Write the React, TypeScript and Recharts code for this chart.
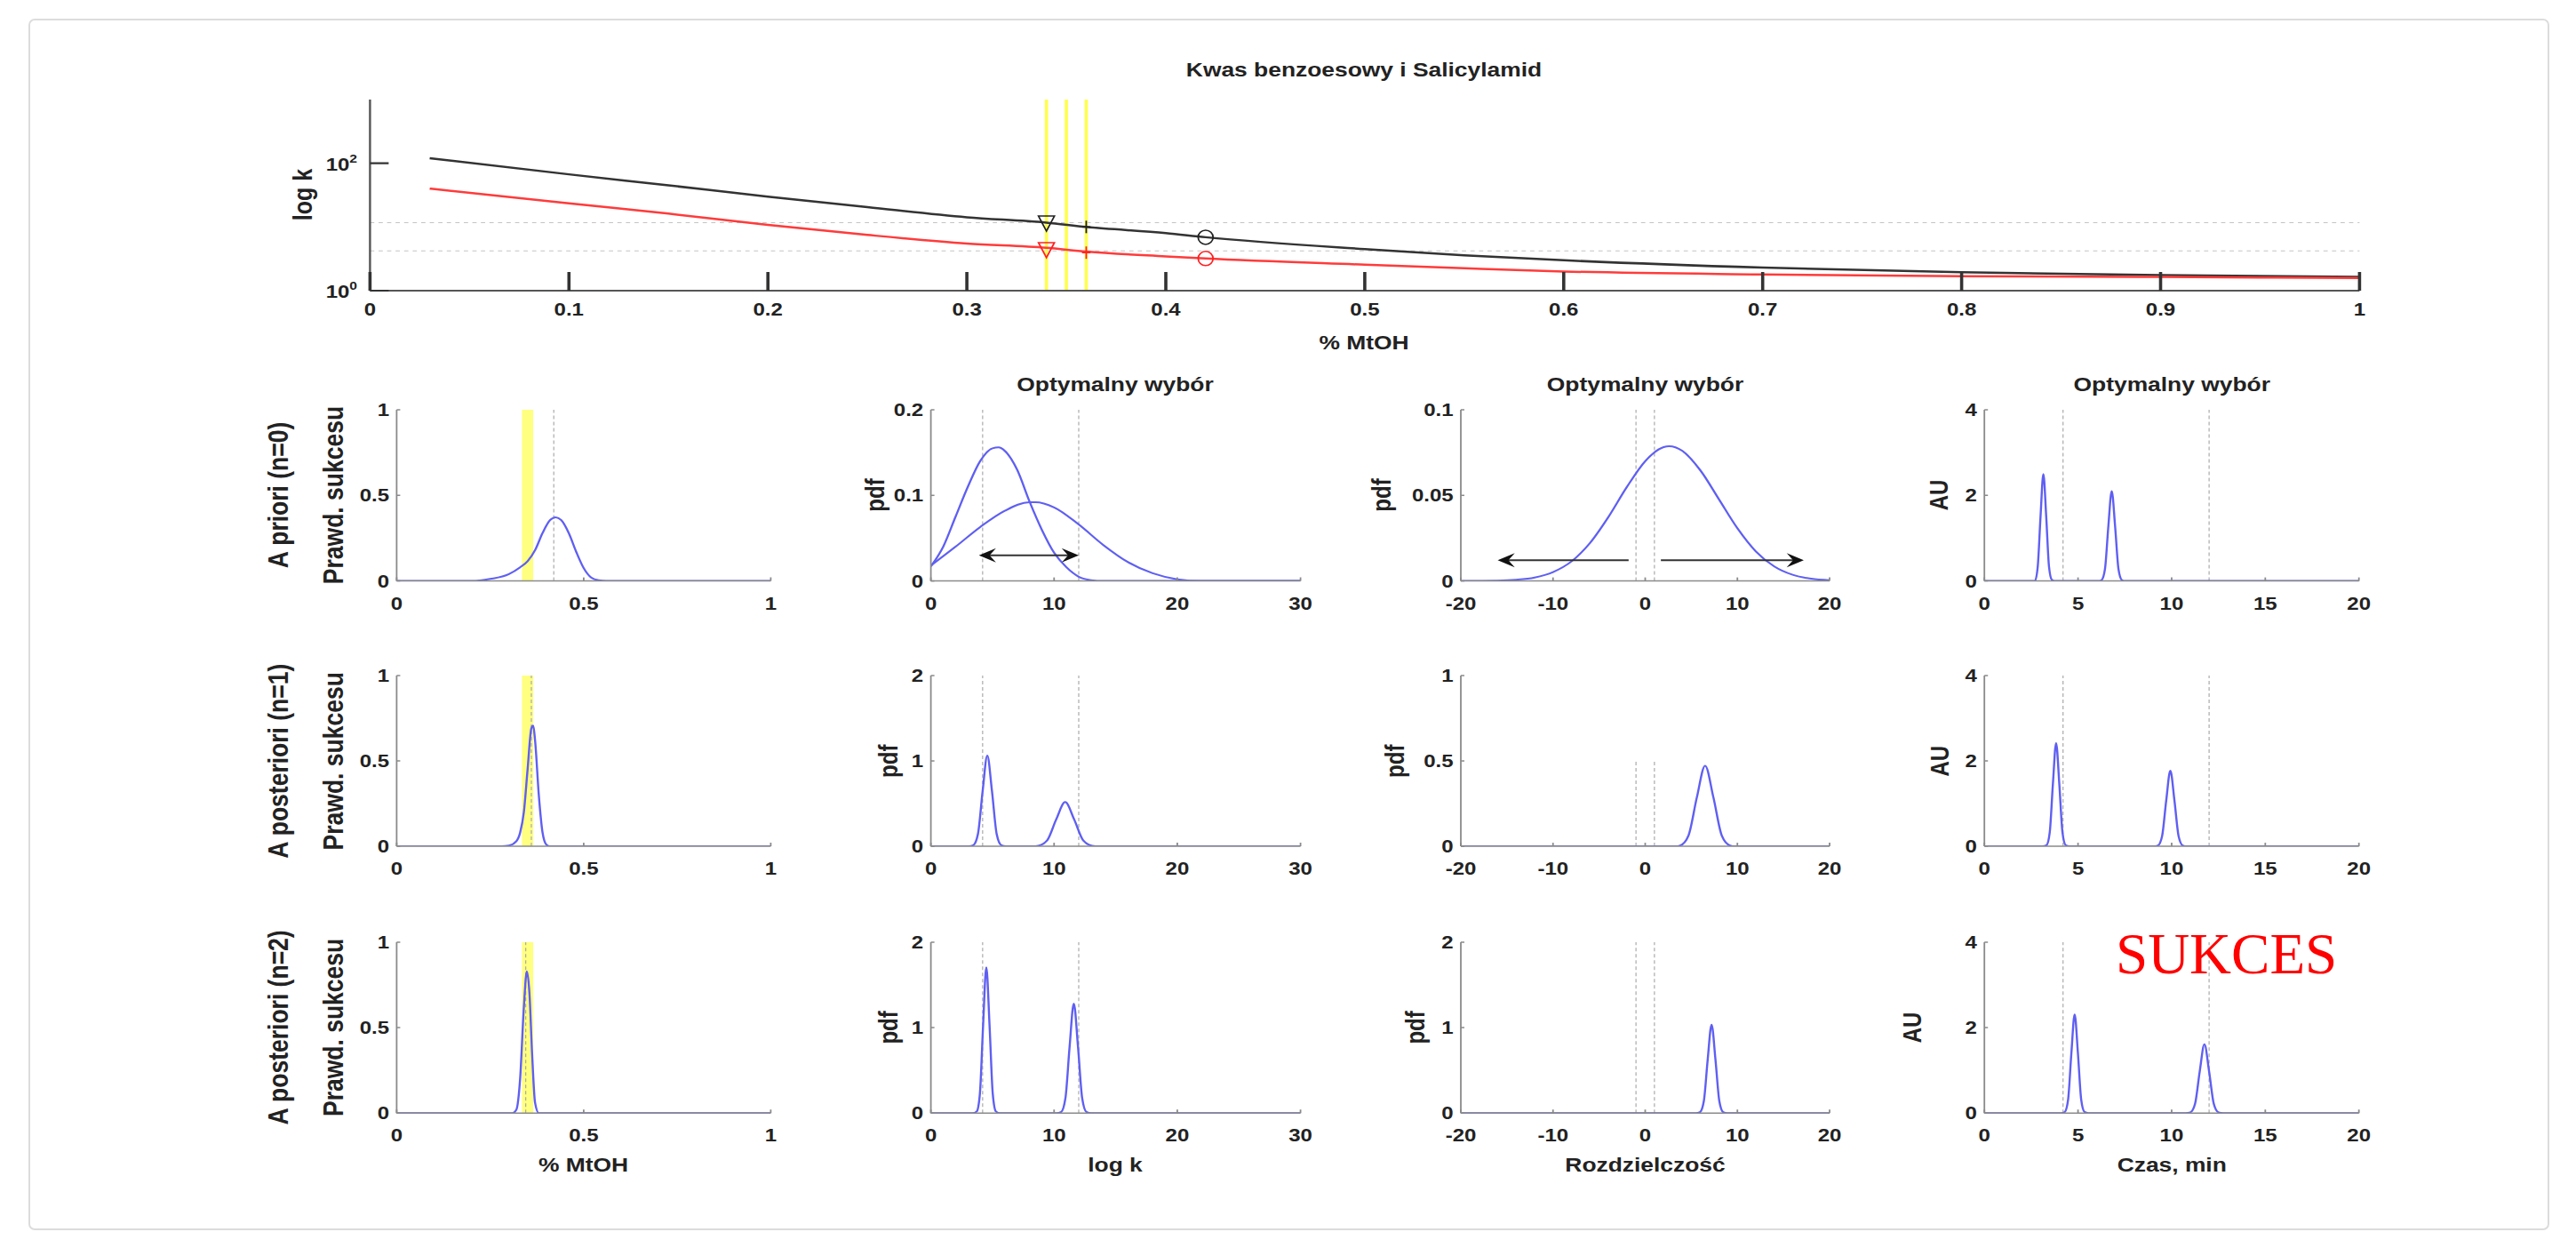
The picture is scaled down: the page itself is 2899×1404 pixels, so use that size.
import React from 'react';
import {
    ComposedChart,
    Line,
    Scatter,
    XAxis,
    YAxis,
    ReferenceLine,
    ReferenceArea,
} from 'recharts';

const W = 2899;
const H = 1404;
const SX = 1.2; // the source figure is stretched horizontally
const FONT = '"Liberation Sans", Arial, Helvetica, sans-serif';
const BLUE = '#5f5ff2';
const AXIS = '#8a8a8a';
const TXT = '#222222';
const DASH = '#aaaaaa';

type Pt = [number, number];

// ---- top chart: log k vs % MtOH ----
const mtohX = [0.03, 0.1, 0.15, 0.2, 0.25, 0.3, 0.34, 0.36, 0.4, 0.42, 0.5, 0.55, 0.6, 0.7, 0.8, 0.9, 1.0];
const kBenzoic = [120, 67, 45, 30, 20.5, 14.2, 11.7, 10.0, 8.0, 6.9, 4.5, 3.6, 3.0, 2.3, 1.94, 1.76, 1.65];
const kSalicyl = [40, 23.5, 16.2, 10.8, 7.5, 5.5, 4.7, 4.1, 3.45, 3.2, 2.56, 2.25, 2.0, 1.8, 1.69, 1.64, 1.58];
const benzoicMarks = [
    { x: 0.34, y: 11.5, m: 'v' },
    { x: 0.36, y: 10.0, m: '+' },
    { x: 0.42, y: 6.9, m: 'o' },
];
const salicylMarks = [
    { x: 0.34, y: 4.4, m: 'v' },
    { x: 0.36, y: 3.95, m: '+' },
    { x: 0.42, y: 3.2, m: 'o' },
];
const kLevels = [11.7, 4.2];
const chosenMtoh = [0.34, 0.35, 0.36];
const topXTicks = [0, 0.1, 0.2, 0.3, 0.4, 0.5, 0.6, 0.7, 0.8, 0.9, 1];
const topYTicks = [1, 100];

// ---- column 1: success probability ----
const priorSuccess: Pt[] = [[0, 0], [0.2, 0], [0.25, 0.012], [0.3, 0.04], [0.33, 0.08], [0.35, 0.115], [0.37, 0.18], [0.39, 0.28], [0.41, 0.355], [0.425, 0.372], [0.44, 0.355], [0.46, 0.28], [0.48, 0.17], [0.5, 0.075], [0.52, 0.02], [0.54, 0.004], [0.56, 0], [1, 0]];
const post1Success: Pt[] = [[0, 0], [0.28, 0], [0.3, 0.004], [0.32, 0.03], [0.33, 0.08], [0.34, 0.2], [0.35, 0.45], [0.36, 0.69], [0.365, 0.707], [0.37, 0.62], [0.38, 0.3], [0.39, 0.08], [0.4, 0.01], [0.41, 0], [1, 0]];
const post2Success: Pt[] = [[0, 0], [0.31, 0], [0.32, 0.02], [0.33, 0.2], [0.34, 0.62], [0.348, 0.83], [0.355, 0.7], [0.362, 0.35], [0.37, 0.06], [0.38, 0], [1, 0]];
const successBand = [0.335, 0.365];
const successPick = [[0.42], [0.36], [0.345]];
const successXTicks = [0, 0.5, 1];
const successYTicks = [0, 0.5, 1];

// ---- column 2: log k pdf ----
const priorLogkA: Pt[] = [[0, 0.017], [1, 0.04], [2, 0.075], [3, 0.11], [4, 0.14], [5, 0.155], [5.5, 0.156], [6, 0.152], [7, 0.13], [8, 0.093], [9, 0.06], [10, 0.033], [11, 0.016], [12, 0.005], [13, 0.001], [14, 0], [30, 0]];
const priorLogkB: Pt[] = [[0, 0.018], [2, 0.04], [4, 0.063], [6, 0.082], [8, 0.092], [8.5, 0.092], [10, 0.086], [12, 0.066], [14, 0.042], [16, 0.022], [18, 0.009], [20, 0.002], [22, 0], [30, 0]];
const post1Logk: Pt[] = [[0, 0], [3.1, 0], [3.44, 0.012], [3.82, 0.144], [4.2, 0.645], [4.58, 1.064], [4.96, 0.645], [5.34, 0.144], [5.72, 0.012], [6.1, 0], [8.3, 0], [8.71, 0.006], [9.44, 0.07], [10.17, 0.314], [10.9, 0.518], [11.63, 0.314], [12.36, 0.07], [13.09, 0.006], [13.6, 0], [30, 0]];
const post2Logk: Pt[] = [[0, 0], [3.4, 0], [3.72, 0.019], [3.98, 0.23], [4.24, 1.033], [4.5, 1.705], [4.76, 1.033], [5.02, 0.23], [5.28, 0.019], [5.6, 0], [10.2, 0], [10.58, 0.014], [10.92, 0.174], [11.26, 0.778], [11.6, 1.283], [11.94, 0.778], [12.28, 0.174], [12.62, 0.014], [13, 0], [30, 0]];
const logkBounds = [4.2, 12];
const logkArrow = [{ from: 3.9, to: 12, y: 0.03, both: true }];
const logkXTicks = [0, 10, 20, 30];
const priorLogkYTicks = [0, 0.1, 0.2];
const postLogkYTicks = [0, 1, 2];

// ---- column 3: resolution pdf ----
const priorRes: Pt[] = [[-20, 0], [-16, 0.0002], [-14, 0.0007], [-12, 0.002], [-10, 0.0052], [-8, 0.0114], [-6, 0.0221], [-4, 0.0373], [-2, 0.0548], [0, 0.07], [2, 0.0782], [2.6, 0.0787], [4, 0.0761], [6, 0.0645], [8, 0.0477], [10, 0.0308], [12, 0.0173], [14, 0.0085], [16, 0.0036], [18, 0.0013], [20, 0.0004]];
const post1Res: Pt[] = [[-20, 0], [3.3, 0], [3.8, 0.005], [4.7, 0.064], [5.6, 0.286], [6.5, 0.472], [7.4, 0.286], [8.3, 0.064], [9.2, 0.005], [9.7, 0], [20, 0]];
const post2Res: Pt[] = [[-20, 0], [5.5, 0], [5.94, 0.011], [6.36, 0.14], [6.78, 0.628], [7.2, 1.036], [7.62, 0.628], [8.04, 0.14], [8.46, 0.011], [8.9, 0], [20, 0]];
const resBounds = [-1, 1];
const resArrows = [
    { from: -1.8, to: -16, y: 0.0121, both: false },
    { from: 1.7, to: 17.2, y: 0.0121, both: false },
];
const resXTicks = [-20, -10, 0, 10, 20];
const priorResYTicks = [0, 0.05, 0.1];
const post1ResYTicks = [0, 0.5, 1];
const post2ResYTicks = [0, 1, 2];

// ---- column 4: chromatogram ----
const priorTime: Pt[] = [[0, 0], [2.7, 0], [2.85, 0.34], [3.0, 1.52], [3.15, 2.5], [3.3, 1.52], [3.45, 0.34], [3.6, 0.028], [3.75, 0], [6.1, 0], [6.26, 0.023], [6.44, 0.28], [6.62, 1.28], [6.8, 2.1], [6.98, 1.28], [7.16, 0.28], [7.34, 0.023], [7.5, 0], [20, 0]];
const post1Time: Pt[] = [[0, 0], [3.1, 0], [3.32, 0.027], [3.49, 0.327], [3.66, 1.467], [3.83, 2.42], [4.0, 1.467], [4.17, 0.327], [4.34, 0.027], [4.55, 0], [9.05, 0], [9.27, 0.02], [9.49, 0.24], [9.71, 1.073], [9.93, 1.77], [10.15, 1.073], [10.37, 0.24], [10.59, 0.02], [10.8, 0], [20, 0]];
const post2Time: Pt[] = [[0, 0], [4.1, 0], [4.295, 0.026], [4.47, 0.312], [4.645, 1.4], [4.82, 2.31], [4.995, 1.4], [5.17, 0.312], [5.345, 0.026], [5.55, 0], [10.75, 0], [11.0, 0.018], [11.25, 0.218], [11.5, 0.976], [11.75, 1.61], [12.0, 0.976], [12.25, 0.218], [12.5, 0.018], [12.75, 0], [20, 0]];
const timeBounds = [4.2, 12];
const timeXTicks = [0, 5, 10, 15, 20];
const timeYTicks = [0, 2, 4];

const rowLabels = ['A priori (n=0)', 'A posteriori (n=1)', 'A posteriori (n=2)'];
const colLabels = ['% MtOH', 'log k', 'Rozdzielczość', 'Czas, min'];
const colYLabels = ['pdf', 'pdf', 'AU'];

// layout, full-size pixels
const TOP_BOX = [416, 2655, 111.7, 326.7];
const COLS = [[446, 867], [1047, 1463], [1644, 2059], [2233.5, 2655]];
const ROWS = [[460.7, 653.3], [760.2, 952.3], [1059.8, 1252]];
const Y_LABEL_X = [[994.5, 1564.5, 2192], [1009.5, 1580, 2193], [1009.5, 1602.5, 2162]];

const ML = 70;
const MT = 14;
const MR = 30;
const MB = 50;

const toRows = (pts: Pt[]) => pts.map(([x, y]) => ({ x, y }));

const XTick = ({ x, y, value, len, dy, color = AXIS, sw = 1.5 }: any) => (
    <g>
        <path d={`M${x},${y} L${x},${y - len}`} stroke={color} strokeWidth={sw} fill="none" />
        <text x={x} y={y + dy} textAnchor="middle" fontFamily={FONT} fontWeight="bold" fontSize={20} fill={TXT}>
            {String(value)}
        </text>
    </g>
);

const YTick = ({ x, y, value, len, gap }: any) => (
    <g>
        <path d={`M${x},${y} L${x + len},${y}`} stroke={AXIS} strokeWidth={1.5} fill="none" />
        <text x={x - gap} y={y} dy="0.36em" textAnchor="end" fontFamily={FONT} fontWeight="bold" fontSize={20} fill={TXT}>
            {String(value)}
        </text>
    </g>
);

const LogTick = ({ x, y, value }: any) => (
    <g>
        <path d={`M${x},${y} L${x + 17.5},${y}`} stroke="#333" strokeWidth={2.2} fill="none" />
        <text x={x - 12} y={y + 8} textAnchor="end" fontFamily={FONT} fontWeight="bold" fontSize={20} fill={TXT}>
            <tspan>10</tspan>
            <tspan dy={-9} fontSize={13}>{String(Math.round(Math.log10(value)))}</tspan>
        </text>
    </g>
);

const arrowShape = (both: boolean) => (p: any) => {
    const { x1, y1, x2, y2 } = p;
    const dir = x2 > x1 ? 1 : -1;
    const head = (tx: number, ty: number, d: number) => (
        <path
            d={`M${tx},${ty} L${tx - d * 16},${ty - 8} L${tx - d * 10},${ty} L${tx - d * 16},${ty + 8} Z`}
            fill="#111"
        />
    );
    return (
        <g>
            <line x1={both ? x1 + dir * 8 : x1} y1={y1} x2={x2 - dir * 8} y2={y2} stroke="#333" strokeWidth={2} />
            {head(x2, y2, dir)}
            {both && head(x1, y1, -dir)}
        </g>
    );
};

const markShape = (color: string) => (p: any) => {
    const { cx, cy, payload } = p;
    if (payload.m === 'v') {
        return <path d={`M${cx - 7.5},${cy - 8} L${cx + 7.5},${cy - 8} L${cx},${cy + 9} Z`} fill="none" stroke={color} strokeWidth={1.5} />;
    }
    if (payload.m === '+') {
        return (
            <g stroke={color} strokeWidth={1.5}>
                <line x1={cx} x2={cx} y1={cy - 7} y2={cy + 7} />
                <line x1={cx - 4} x2={cx + 4} y1={cy} y2={cy} />
            </g>
        );
    }
    return <ellipse cx={cx} cy={cy} rx={7} ry={8} fill="none" stroke={color} strokeWidth={1.5} />;
};

type Arrow = { from: number; to: number; y: number; both: boolean };

type PanelProps = {
    col: number;
    row: number;
    xDomain: [number, number];
    xTicks: number[];
    yTicks: number[];
    curves: Pt[][];
    dashed: number[];
    dashedTop?: number;
    band?: number[];
    arrows?: Arrow[];
};

const Panel = ({ col, row, xDomain, xTicks, yTicks, curves, dashed, dashedTop, band, arrows = [] }: PanelProps) => {
    const [x0, x1] = COLS[col];
    const [y0, y1] = ROWS[row];
    const width = (x1 - x0) / SX + ML + MR;
    const height = y1 - y0 + MT + MB;
    const yMax = yTicks[yTicks.length - 1];
    return (
        <div style={{ position: 'absolute', left: x0 / SX - ML, top: y0 - MT }}>
            <ComposedChart width={width} height={height} margin={{ top: MT, right: MR, left: 0, bottom: 0 }}>
                <XAxis
                    type="number"
                    dataKey="x"
                    domain={xDomain}
                    ticks={xTicks}
                    interval={0}
                    allowDataOverflow
                    height={MB}
                    tickLine={false}
                    tickSize={0}
                    tickMargin={0}
                    axisLine={{ stroke: AXIS, strokeWidth: 1.5 }}
                    tick={(p: any) => <XTick x={p.x} y={p.y} value={p.payload.value} len={4} dy={32} />}
                />
                <YAxis
                    type="number"
                    dataKey="y"
                    domain={[0, yMax]}
                    ticks={yTicks}
                    interval={0}
                    allowDataOverflow
                    width={ML}
                    tickLine={false}
                    tickSize={0}
                    tickMargin={0}
                    axisLine={{ stroke: AXIS, strokeWidth: 1.5 }}
                    tick={(p: any) => <YTick x={p.x} y={p.y} value={p.payload.value} len={4 / SX} gap={7} />}
                />
                {band && <ReferenceArea x1={band[0]} x2={band[1]} fill="#ffff80" fillOpacity={1} stroke="none" />}
                {dashed.map((v) =>
                    dashedTop === undefined ? (
                        <ReferenceLine key={`d${v}`} x={v} stroke={DASH} strokeDasharray="4 3" strokeWidth={1} />
                    ) : (
                        <ReferenceLine
                            key={`d${v}`}
                            segment={[{ x: v, y: 0 }, { x: v, y: dashedTop }]}
                            stroke={DASH}
                            strokeDasharray="4 3"
                            strokeWidth={1}
                        />
                    )
                )}
                {curves.map((c, i) => (
                    <Line
                        key={`c${i}`}
                        data={toRows(c)}
                        dataKey="y"
                        type="monotone"
                        stroke={BLUE}
                        strokeWidth={2}
                        dot={false}
                        activeDot={false}
                        isAnimationActive={false}
                    />
                ))}
                {arrows.map((a, i) => (
                    <ReferenceLine
                        key={`a${i}`}
                        segment={[{ x: a.from, y: a.y }, { x: a.to, y: a.y }]}
                        stroke="#222"
                        shape={arrowShape(a.both)}
                    />
                ))}
            </ComposedChart>
        </div>
    );
};

const TopChart = () => {
    const [x0, x1, y0, y1] = TOP_BOX;
    const width = (x1 - x0) / SX + ML + MR;
    const height = y1 - y0 + MT + MB;
    const black = mtohX.map((x, i) => ({ x, y: kBenzoic[i] }));
    const red = mtohX.map((x, i) => ({ x, y: kSalicyl[i] }));
    return (
        <div style={{ position: 'absolute', left: x0 / SX - ML, top: y0 - MT }}>
            <ComposedChart width={width} height={height} margin={{ top: MT, right: MR, left: 0, bottom: 0 }}>
                <XAxis
                    type="number"
                    dataKey="x"
                    domain={[0, 1]}
                    ticks={topXTicks}
                    interval={0}
                    allowDataOverflow
                    height={MB}
                    tickLine={false}
                    tickSize={0}
                    tickMargin={0}
                    axisLine={{ stroke: '#555', strokeWidth: 2 }}
                    tick={(p: any) => <XTick x={p.x} y={p.y} value={p.payload.value} len={21} dy={28} color="#333" sw={3} />}
                />
                <YAxis
                    type="number"
                    dataKey="y"
                    scale="log"
                    domain={[1, 1000]}
                    ticks={topYTicks}
                    interval={0}
                    allowDataOverflow
                    width={ML}
                    tickLine={false}
                    tickSize={0}
                    tickMargin={0}
                    axisLine={{ stroke: '#555', strokeWidth: 2 }}
                    tick={(p: any) => <LogTick x={p.x} y={p.y} value={p.payload.value} />}
                />
                {kLevels.map((v) => (
                    <ReferenceLine key={`h${v}`} y={v} stroke="#c4c4c4" strokeDasharray="4 4" strokeWidth={1} />
                ))}
                {chosenMtoh.map((v) => (
                    <ReferenceLine key={`y${v}`} x={v} stroke="#ffff4d" strokeWidth={3} />
                ))}
                <Line data={black} dataKey="y" type="monotone" stroke="#333333" strokeWidth={2.5} dot={false} activeDot={false} isAnimationActive={false} />
                <Line data={red} dataKey="y" type="monotone" stroke="#ff3b3b" strokeWidth={2.5} dot={false} activeDot={false} isAnimationActive={false} />
                <Scatter data={benzoicMarks} dataKey="y" shape={markShape('#222222')} isAnimationActive={false} />
                <Scatter data={salicylMarks} dataKey="y" shape={markShape('#ff2020')} isAnimationActive={false} />
            </ComposedChart>
        </div>
    );
};

const txt = {
    fontFamily: FONT,
    fontWeight: 'bold' as const,
    fill: TXT,
};

const App = () => {
    const colCenters = COLS.map(([a, b]) => (a + b) / 2);
    const rowCenters = ROWS.map(([a, b]) => (a + b) / 2);
    return (
        <div style={{ position: 'absolute', left: 0, top: 0, width: W, height: H, background: '#fff', overflow: 'hidden' }}>
            <svg width={W} height={H} style={{ position: 'absolute', left: 0, top: 0 }}>
                <rect x={33} y={22} width={2835} height={1361} rx={6} fill="none" stroke="#dcdcdc" strokeWidth={2} />
            </svg>
            <div
                style={{
                    position: 'absolute',
                    left: 0,
                    top: 0,
                    width: W / SX,
                    height: H,
                    transform: `scaleX(${SX})`,
                    transformOrigin: '0 0',
                }}
            >
                <TopChart />

                <Panel col={0} row={0} xDomain={[0, 1]} xTicks={successXTicks} yTicks={successYTicks} curves={[priorSuccess]} dashed={successPick[0]} band={successBand} />
                <Panel col={0} row={1} xDomain={[0, 1]} xTicks={successXTicks} yTicks={successYTicks} curves={[post1Success]} dashed={successPick[1]} band={successBand} />
                <Panel col={0} row={2} xDomain={[0, 1]} xTicks={successXTicks} yTicks={successYTicks} curves={[post2Success]} dashed={successPick[2]} band={successBand} />

                <Panel col={1} row={0} xDomain={[0, 30]} xTicks={logkXTicks} yTicks={priorLogkYTicks} curves={[priorLogkA, priorLogkB]} dashed={logkBounds} arrows={logkArrow} />
                <Panel col={1} row={1} xDomain={[0, 30]} xTicks={logkXTicks} yTicks={postLogkYTicks} curves={[post1Logk]} dashed={logkBounds} />
                <Panel col={1} row={2} xDomain={[0, 30]} xTicks={logkXTicks} yTicks={postLogkYTicks} curves={[post2Logk]} dashed={logkBounds} />

                <Panel col={2} row={0} xDomain={[-20, 20]} xTicks={resXTicks} yTicks={priorResYTicks} curves={[priorRes]} dashed={resBounds} arrows={resArrows} />
                <Panel col={2} row={1} xDomain={[-20, 20]} xTicks={resXTicks} yTicks={post1ResYTicks} curves={[post1Res]} dashed={resBounds} dashedTop={0.5} />
                <Panel col={2} row={2} xDomain={[-20, 20]} xTicks={resXTicks} yTicks={post2ResYTicks} curves={[post2Res]} dashed={resBounds} />

                <Panel col={3} row={0} xDomain={[0, 20]} xTicks={timeXTicks} yTicks={timeYTicks} curves={[priorTime]} dashed={timeBounds} />
                <Panel col={3} row={1} xDomain={[0, 20]} xTicks={timeXTicks} yTicks={timeYTicks} curves={[post1Time]} dashed={timeBounds} />
                <Panel col={3} row={2} xDomain={[0, 20]} xTicks={timeXTicks} yTicks={timeYTicks} curves={[post2Time]} dashed={timeBounds} />

                <svg width={W / SX} height={H} style={{ position: 'absolute', left: 0, top: 0, pointerEvents: 'none' }}>
                    <text x={1535 / SX} y={86} textAnchor="middle" fontSize={22} {...txt}>
                        Kwas benzoesowy i Salicylamid
                    </text>
                    <text x={1535 / SX} y={393} textAnchor="middle" fontSize={22} {...txt}>
                        % MtOH
                    </text>
                    <text transform={`translate(${350.8 / SX},219) rotate(-90)`} textAnchor="middle" fontSize={25} {...txt}>
                        log k
                    </text>
                    {[1, 2, 3].map((c) => (
                        <text key={`t${c}`} x={colCenters[c] / SX} y={440} textAnchor="middle" fontSize={22} {...txt}>
                            Optymalny wybór
                        </text>
                    ))}
                    {colLabels.map((l, c) => (
                        <text key={`x${c}`} x={colCenters[c] / SX} y={1318} textAnchor="middle" fontSize={22} {...txt}>
                            {l}
                        </text>
                    ))}
                    {rowLabels.map((l, r) => (
                        <g key={`r${r}`}>
                            <text transform={`translate(${323.5 / SX},${rowCenters[r]}) rotate(-90)`} textAnchor="middle" fontSize={26.5} {...txt}>
                                {l}
                            </text>
                            <text transform={`translate(${386 / SX},${rowCenters[r]}) rotate(-90)`} textAnchor="middle" fontSize={26.5} {...txt}>
                                Prawd. sukcesu
                            </text>
                            {colYLabels.map((yl, c) => (
                                <text
                                    key={`yl${c}`}
                                    transform={`translate(${Y_LABEL_X[r][c] / SX},${rowCenters[r]}) rotate(-90)`}
                                    textAnchor="middle"
                                    fontSize={24}
                                    {...txt}
                                >
                                    {yl}
                                </text>
                            ))}
                        </g>
                    ))}
                </svg>
            </div>
            <svg width={W} height={H} style={{ position: 'absolute', left: 0, top: 0, pointerEvents: 'none' }}>
                <text x={2381} y={1095} fontFamily='"Liberation Serif", "Times New Roman", serif' fontSize={65} fill="#ff0000">
                    SUKCES
                </text>
            </svg>
        </div>
    );
};

export default App;
